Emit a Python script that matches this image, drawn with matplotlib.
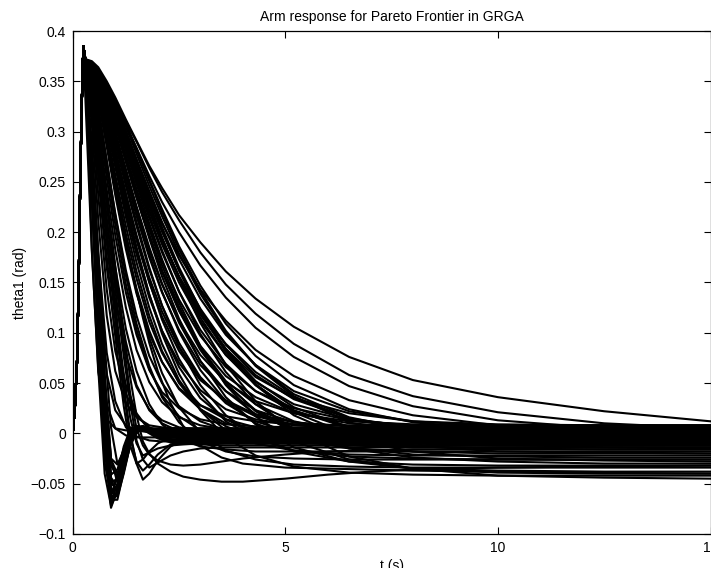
import numpy as np
import matplotlib.pyplot as plt

plt.rcParams['font.family'] = ['Liberation Sans', 'DejaVu Sans']

# common start of every response (rise to the first peak)
t_rise = [0.0, 0.05, 0.1, 0.14, 0.18, 0.22, 0.25]
y_rise = [0.0, 0.025, 0.07, 0.15, 0.26, 0.34, 0.385]

# time samples for the oscillating responses
t_fast = [0.3, 0.45, 0.6, 0.75, 0.9, 1.05, 1.2, 1.35, 1.5, 1.65, 1.8, 2.0,
          2.3, 2.6, 3.0, 3.5, 4.0, 5.0, 6.0, 7.0, 8.0, 10.0, 12.0, 15.0]

# fast ones, first minimum near t = 0.9-1.05 s
fast_curves = [
    [0.330, 0.180, 0.065, -0.040, -0.072, -0.058, -0.030, -0.006, 0.006, 0.007, 0.004, 0.001,
     -0.002, -0.003, -0.002, -0.002, -0.002, -0.002, -0.002, -0.002, -0.002, -0.002, -0.002, -0.002],
    [0.355, 0.240, 0.108, -0.010, -0.068, -0.051, -0.020, 0.001, 0.007, 0.005, 0.003, 0.000,
     0.000, 0.000, 0.000, 0.000, 0.000, 0.000, 0.000, 0.000, 0.000, 0.000, 0.000, 0.000],
    [0.356, 0.249, 0.125, 0.009, -0.060, -0.052, -0.024, 0.000, 0.007, 0.005, 0.002, -0.003,
     -0.004, -0.004, -0.004, -0.004, -0.004, -0.004, -0.004, -0.004, -0.004, -0.004, -0.004, -0.004],
    [0.357, 0.254, 0.133, 0.016, -0.066, -0.066, -0.038, -0.004, 0.006, 0.006, 0.004, 0.002,
     0.002, 0.002, 0.002, 0.002, 0.002, 0.002, 0.002, 0.002, 0.002, 0.002, 0.002, 0.002],
    [0.357, 0.259, 0.143, 0.031, -0.050, -0.055, -0.031, -0.005, 0.005, 0.006, 0.003, -0.001,
     -0.003, -0.003, -0.003, -0.003, -0.003, -0.003, -0.003, -0.003, -0.003, -0.003, -0.003, -0.003],
    [0.357, 0.262, 0.147, 0.036, -0.054, -0.063, -0.040, -0.012, 0.004, 0.006, 0.003, -0.003,
     -0.006, -0.006, -0.006, -0.006, -0.006, -0.006, -0.006, -0.006, -0.006, -0.006, -0.006, -0.006],
    [0.358, 0.266, 0.155, 0.048, -0.044, -0.053, -0.033, -0.010, 0.003, 0.007, 0.004, 0.002,
     0.001, 0.001, 0.001, 0.001, 0.001, 0.001, 0.001, 0.001, 0.001, 0.001, 0.001, 0.001],
    [0.358, 0.270, 0.164, 0.060, -0.025, -0.049, -0.035, -0.013, 0.001, 0.006, 0.004, -0.002,
     -0.006, -0.009, -0.009, -0.009, -0.009, -0.009, -0.009, -0.009, -0.009, -0.009, -0.009, -0.009],
    [0.356, 0.244, 0.115, -0.004, -0.070, -0.058, -0.025, 0.000, 0.007, 0.005, 0.001, -0.004,
     -0.008, -0.008, -0.008, -0.008, -0.008, -0.008, -0.008, -0.008, -0.008, -0.008, -0.008, -0.008],
    [0.356, 0.253, 0.131, 0.014, -0.062, -0.062, -0.035, -0.003, 0.006, 0.007, 0.005, 0.004,
     0.004, 0.004, 0.004, 0.004, 0.004, 0.004, 0.004, 0.004, 0.004, 0.004, 0.004, 0.004],
    [0.357, 0.261, 0.148, 0.040, -0.025, -0.031, -0.017, -0.001, 0.005, 0.005, 0.003, 0.001,
     0.000, 0.000, 0.000, 0.000, 0.000, 0.000, 0.000, 0.000, 0.000, 0.000, 0.000, 0.000],
    [0.358, 0.269, 0.162, 0.057, -0.026, -0.040, -0.026, -0.008, 0.003, 0.006, 0.003, -0.001,
     -0.004, -0.005, -0.005, -0.005, -0.005, -0.005, -0.005, -0.005, -0.005, -0.005, -0.005, -0.005],
    [0.357, 0.252, 0.131, 0.019, -0.041, -0.036, -0.015, 0.001, 0.007, 0.006, 0.004, 0.003,
     0.003, 0.003, 0.003, 0.003, 0.003, 0.003, 0.003, 0.003, 0.003, 0.003, 0.003, 0.003],
    [0.359, 0.279, 0.182, 0.087, 0.006, -0.030, -0.023, -0.009, 0.000, 0.005, 0.004, 0.001,
     -0.001, -0.002, -0.002, -0.002, -0.002, -0.002, -0.002, -0.002, -0.002, -0.002, -0.002, -0.002],
    [0.354, 0.233, 0.091, -0.029, -0.062, -0.042, -0.013, 0.004, 0.007, 0.005, 0.003, 0.001,
     0.001, 0.001, 0.001, 0.001, 0.001, 0.001, 0.001, 0.001, 0.001, 0.001, 0.001, 0.001],
    [0.355, 0.239, 0.105, -0.015, -0.074, -0.056, -0.022, 0.001, 0.007, 0.005, 0.003, 0.000,
     -0.002, -0.003, -0.003, -0.003, -0.003, -0.003, -0.003, -0.003, -0.003, -0.003, -0.003, -0.003],
    [0.356, 0.252, 0.129, 0.011, -0.059, -0.061, -0.032, -0.002, 0.006, 0.007, 0.005, 0.005,
     0.005, 0.005, 0.005, 0.005, 0.005, 0.005, 0.005, 0.005, 0.005, 0.005, 0.005, 0.005],
    [0.357, 0.263, 0.152, 0.044, -0.032, -0.043, -0.027, -0.006, 0.004, 0.006, 0.003, -0.002,
     -0.006, -0.007, -0.007, -0.007, -0.007, -0.007, -0.007, -0.007, -0.007, -0.007, -0.007, -0.007],
    [0.357, 0.264, 0.151, 0.042, -0.046, -0.059, -0.038, -0.012, 0.004, 0.007, 0.004, 0.001,
     0.000, 0.000, 0.000, 0.000, 0.000, 0.000, 0.000, 0.000, 0.000, 0.000, 0.000, 0.000],
    [0.356, 0.251, 0.129, 0.015, -0.049, -0.045, -0.021, 0.000, 0.006, 0.004, 0.000, -0.005,
     -0.009, -0.010, -0.010, -0.010, -0.010, -0.010, -0.010, -0.010, -0.010, -0.010, -0.010, -0.010],
]

# medium ones, minimum near t = 1.6 s
medium_curves = [
    [0.364, 0.326, 0.271, 0.214, 0.156, 0.100, 0.046, 0.001, -0.030, -0.046, -0.040, -0.027,
     -0.013, -0.007, -0.005, -0.004, -0.004, -0.004, -0.004, -0.004, -0.004, -0.004, -0.004, -0.004],
    [0.363, 0.324, 0.269, 0.210, 0.151, 0.095, 0.040, -0.003, -0.028, -0.037, -0.031, -0.021,
     -0.011, -0.008, -0.006, -0.006, -0.006, -0.006, -0.006, -0.006, -0.006, -0.006, -0.006, -0.006],
    [0.362, 0.318, 0.258, 0.196, 0.135, 0.078, 0.027, -0.012, -0.030, -0.026, -0.018, -0.010,
     -0.004, -0.002, -0.002, -0.002, -0.002, -0.002, -0.002, -0.002, -0.002, -0.002, -0.002, -0.002],
    [0.364, 0.327, 0.275, 0.219, 0.164, 0.110, 0.058, 0.016, -0.010, -0.022, -0.019, -0.015,
     -0.012, -0.011, -0.010, -0.010, -0.010, -0.010, -0.010, -0.010, -0.010, -0.010, -0.010, -0.010],
    [0.364, 0.331, 0.282, 0.231, 0.178, 0.126, 0.077, 0.031, -0.007, -0.026, -0.034, -0.029,
     -0.022, -0.018, -0.015, -0.014, -0.014, -0.014, -0.014, -0.014, -0.014, -0.014, -0.014, -0.014],
]

# slow undershoot, minimum between 2.5 and 4 s
undershoot_curves = [
    [0.365, 0.340, 0.300, 0.250, 0.200, 0.150, 0.100, 0.056, 0.018, -0.008, -0.020, -0.030,
     -0.038, -0.043, -0.046, -0.048, -0.048, -0.045, -0.041, -0.038, -0.036, -0.034, -0.033, -0.032],
    [0.366, 0.340, 0.297, 0.246, 0.192, 0.140, 0.088, 0.040, 0.005, -0.012, -0.021, -0.027,
     -0.031, -0.032, -0.031, -0.028, -0.025, -0.021, -0.018, -0.017, -0.016, -0.016, -0.016, -0.016],
    [0.368, 0.360, 0.340, 0.310, 0.275, 0.240, 0.205, 0.172, 0.142, 0.115, 0.090, 0.062,
     0.030, 0.007, -0.012, -0.024, -0.030, -0.034, -0.035, -0.036, -0.037, -0.038, -0.039, -0.040],
]

# time samples for the overdamped responses
t_slow = [0.3, 0.45, 0.6, 0.8, 1.0, 1.25, 1.5, 1.8, 2.1, 2.5, 3.0, 3.6, 4.3, 5.2, 6.5, 8.0, 10.0, 12.5, 15.0]

slow_curves = [
    [0.370, 0.183, 0.061, 0.014, 0.005, 0.003, 0.003, 0.003, 0.003, 0.003, 0.003, 0.003, 0.003, 0.003, 0.003, 0.003, 0.003, 0.003, 0.003],
    [0.370, 0.232, 0.102, 0.029, 0.005, -0.002, -0.004, -0.004, -0.004, -0.004, -0.004, -0.004, -0.004, -0.004, -0.004, -0.004, -0.004, -0.004, -0.004],
    [0.370, 0.267, 0.147, 0.059, 0.023, 0.008, 0.003, 0.001, 0.001, 0.001, 0.001, 0.001, 0.001, 0.001, 0.001, 0.001, 0.001, 0.001, 0.001],
    [0.370, 0.288, 0.178, 0.080, 0.032, 0.006, -0.003, -0.007, -0.008, -0.008, -0.008, -0.008, -0.008, -0.008, -0.008, -0.008, -0.008, -0.008, -0.008],
    [0.370, 0.307, 0.212, 0.117, 0.062, 0.030, 0.016, 0.008, 0.006, 0.005, 0.005, 0.005, 0.005, 0.005, 0.005, 0.005, 0.005, 0.005, 0.005],
    [0.370, 0.320, 0.237, 0.143, 0.082, 0.039, 0.017, 0.006, 0.001, -0.001, -0.002, -0.002, -0.002, -0.002, -0.002, -0.002, -0.002, -0.002, -0.002],
    [0.370, 0.329, 0.256, 0.165, 0.100, 0.048, 0.020, 0.003, -0.005, -0.010, -0.011, -0.012, -0.012, -0.012, -0.012, -0.012, -0.012, -0.012, -0.012],
    [0.370, 0.338, 0.277, 0.196, 0.132, 0.078, 0.046, 0.024, 0.013, 0.006, 0.003, 0.002, 0.002, 0.002, 0.002, 0.002, 0.002, 0.002, 0.002],
    [0.370, 0.343, 0.289, 0.212, 0.150, 0.091, 0.048, 0.023, 0.010, 0.002, -0.003, -0.005, -0.006, -0.006, -0.006, -0.006, -0.006, -0.006, -0.006],
    [0.370, 0.347, 0.299, 0.228, 0.165, 0.104, 0.062, 0.029, 0.009, -0.005, -0.013, -0.016, -0.018, -0.018, -0.018, -0.018, -0.018, -0.018, -0.018],
    [0.370, 0.349, 0.307, 0.242, 0.183, 0.125, 0.083, 0.051, 0.031, 0.016, 0.008, 0.004, 0.003, 0.002, 0.002, 0.002, 0.002, 0.002, 0.002],
    [0.370, 0.352, 0.314, 0.254, 0.197, 0.140, 0.098, 0.063, 0.041, 0.025, 0.014, 0.009, 0.007, 0.006, 0.006, 0.006, 0.006, 0.006, 0.006],
    [0.370, 0.354, 0.319, 0.263, 0.208, 0.148, 0.103, 0.064, 0.038, 0.017, 0.003, -0.005, -0.008, -0.010, -0.010, -0.010, -0.010, -0.010, -0.010],
    [0.370, 0.356, 0.324, 0.271, 0.219, 0.162, 0.117, 0.077, 0.050, 0.027, 0.012, 0.003, -0.001, -0.003, -0.003, -0.003, -0.003, -0.003, -0.003],
    [0.370, 0.356, 0.324, 0.271, 0.217, 0.157, 0.109, 0.067, 0.036, 0.011, -0.008, -0.018, -0.023, -0.025, -0.026, -0.026, -0.026, -0.026, -0.026],
    [0.370, 0.358, 0.331, 0.285, 0.237, 0.183, 0.139, 0.099, 0.071, 0.045, 0.028, 0.017, 0.012, 0.009, 0.008, 0.008, 0.008, 0.008, 0.008],
    [0.370, 0.359, 0.333, 0.288, 0.242, 0.188, 0.144, 0.102, 0.071, 0.044, 0.024, 0.010, 0.004, 0.001, 0.000, -0.001, -0.001, -0.001, -0.001],
    [0.370, 0.360, 0.336, 0.294, 0.250, 0.198, 0.154, 0.111, 0.080, 0.051, 0.028, 0.014, 0.006, 0.002, 0.000, 0.000, 0.000, 0.000, 0.000],
    [0.370, 0.359, 0.335, 0.292, 0.245, 0.189, 0.141, 0.095, 0.060, 0.026, 0.001, -0.017, -0.026, -0.031, -0.033, -0.034, -0.034, -0.034, -0.034],
    [0.370, 0.361, 0.339, 0.299, 0.257, 0.206, 0.161, 0.117, 0.082, 0.050, 0.024, 0.007, -0.004, -0.009, -0.011, -0.012, -0.012, -0.012, -0.012],
    [0.370, 0.362, 0.342, 0.307, 0.268, 0.220, 0.178, 0.135, 0.102, 0.070, 0.043, 0.024, 0.014, 0.008, 0.005, 0.004, 0.004, 0.004, 0.004],
    [0.370, 0.362, 0.342, 0.305, 0.265, 0.215, 0.170, 0.125, 0.089, 0.053, 0.024, 0.003, -0.010, -0.017, -0.021, -0.022, -0.022, -0.022, -0.022],
    [0.370, 0.363, 0.344, 0.311, 0.273, 0.225, 0.183, 0.138, 0.102, 0.066, 0.035, 0.014, 0.000, -0.008, -0.012, -0.014, -0.014, -0.014, -0.014],
    [0.370, 0.363, 0.346, 0.314, 0.278, 0.233, 0.192, 0.150, 0.116, 0.082, 0.053, 0.033, 0.019, 0.011, 0.007, 0.006, 0.006, 0.006, 0.006],
    [0.370, 0.363, 0.347, 0.316, 0.282, 0.238, 0.197, 0.155, 0.121, 0.086, 0.055, 0.032, 0.017, 0.009, 0.004, 0.002, 0.002, 0.002, 0.002],
    [0.370, 0.363, 0.346, 0.313, 0.276, 0.229, 0.185, 0.138, 0.099, 0.059, 0.023, -0.004, -0.022, -0.033, -0.039, -0.041, -0.042, -0.042, -0.042],
    [0.370, 0.364, 0.347, 0.317, 0.282, 0.238, 0.195, 0.151, 0.113, 0.074, 0.040, 0.012, -0.005, -0.017, -0.023, -0.025, -0.026, -0.026, -0.026],
    [0.370, 0.364, 0.349, 0.321, 0.288, 0.246, 0.206, 0.163, 0.127, 0.090, 0.056, 0.030, 0.012, 0.000, -0.006, -0.008, -0.009, -0.009, -0.009],
    [0.370, 0.364, 0.351, 0.324, 0.294, 0.255, 0.216, 0.175, 0.140, 0.103, 0.068, 0.042, 0.023, 0.011, 0.004, 0.001, 0.000, 0.000, 0.000],
    [0.370, 0.365, 0.352, 0.327, 0.298, 0.260, 0.223, 0.182, 0.148, 0.112, 0.078, 0.051, 0.032, 0.020, 0.012, 0.009, 0.008, 0.008, 0.008],
    [0.370, 0.364, 0.350, 0.323, 0.291, 0.250, 0.210, 0.165, 0.127, 0.086, 0.048, 0.018, -0.003, -0.018, -0.028, -0.031, -0.032, -0.032, -0.032],
    [0.370, 0.365, 0.352, 0.327, 0.297, 0.258, 0.220, 0.178, 0.141, 0.101, 0.063, 0.032, 0.010, -0.005, -0.015, -0.018, -0.020, -0.020, -0.020],
    [0.370, 0.365, 0.353, 0.329, 0.300, 0.263, 0.226, 0.185, 0.149, 0.110, 0.072, 0.042, 0.019, 0.004, -0.006, -0.010, -0.012, -0.012, -0.012],
    [0.370, 0.366, 0.354, 0.332, 0.305, 0.270, 0.235, 0.196, 0.161, 0.124, 0.087, 0.057, 0.036, 0.020, 0.010, 0.006, 0.004, 0.004, 0.004],
    [0.370, 0.366, 0.355, 0.332, 0.306, 0.271, 0.235, 0.196, 0.161, 0.122, 0.085, 0.052, 0.029, 0.012, 0.000, -0.005, -0.007, -0.007, -0.007],
    [0.370, 0.366, 0.355, 0.335, 0.310, 0.276, 0.243, 0.205, 0.171, 0.133, 0.097, 0.066, 0.042, 0.025, 0.013, 0.008, 0.007, 0.006, 0.006],
    [0.370, 0.366, 0.355, 0.334, 0.307, 0.273, 0.238, 0.198, 0.162, 0.122, 0.083, 0.049, 0.023, 0.005, -0.008, -0.013, -0.015, -0.016, -0.016],
    [0.370, 0.366, 0.356, 0.335, 0.310, 0.276, 0.242, 0.203, 0.167, 0.126, 0.085, 0.050, 0.022, 0.001, -0.014, -0.021, -0.023, -0.024, -0.024],
    [0.370, 0.366, 0.354, 0.333, 0.307, 0.271, 0.235, 0.194, 0.156, 0.114, 0.072, 0.036, 0.009, -0.014, -0.028, -0.035, -0.037, -0.038, -0.038],
    [0.370, 0.366, 0.357, 0.338, 0.315, 0.283, 0.251, 0.214, 0.180, 0.141, 0.103, 0.069, 0.042, 0.022, 0.007, 0.001, -0.002, -0.003, -0.003],
    [0.370, 0.367, 0.358, 0.340, 0.318, 0.288, 0.257, 0.221, 0.188, 0.150, 0.112, 0.078, 0.051, 0.029, 0.014, 0.007, 0.004, 0.003, 0.003],
    [0.370, 0.367, 0.358, 0.341, 0.320, 0.290, 0.260, 0.226, 0.193, 0.156, 0.118, 0.084, 0.056, 0.035, 0.020, 0.012, 0.009, 0.008, 0.008],
    [0.370, 0.366, 0.357, 0.338, 0.314, 0.281, 0.248, 0.209, 0.173, 0.130, 0.087, 0.048, 0.017, -0.008, -0.026, -0.035, -0.039, -0.040, -0.040],
    [0.370, 0.367, 0.358, 0.340, 0.318, 0.287, 0.255, 0.217, 0.182, 0.141, 0.099, 0.061, 0.029, 0.004, -0.015, -0.024, -0.028, -0.030, -0.030],
    [0.370, 0.367, 0.359, 0.342, 0.321, 0.292, 0.262, 0.228, 0.194, 0.155, 0.115, 0.078, 0.048, 0.023, 0.005, -0.004, -0.008, -0.010, -0.010],
    [0.370, 0.367, 0.359, 0.343, 0.323, 0.296, 0.267, 0.233, 0.201, 0.163, 0.124, 0.088, 0.058, 0.034, 0.015, 0.006, 0.002, 0.000, 0.000],
    [0.370, 0.367, 0.360, 0.345, 0.327, 0.301, 0.273, 0.241, 0.210, 0.173, 0.134, 0.098, 0.068, 0.042, 0.022, 0.012, 0.007, 0.005, 0.005],
    [0.370, 0.367, 0.359, 0.344, 0.324, 0.296, 0.268, 0.233, 0.201, 0.162, 0.121, 0.084, 0.052, 0.026, 0.006, -0.004, -0.009, -0.011, -0.011],
    [0.370, 0.367, 0.360, 0.344, 0.325, 0.297, 0.269, 0.234, 0.202, 0.162, 0.120, 0.081, 0.049, 0.021, -0.001, -0.012, -0.018, -0.019, -0.020],
    [0.370, 0.367, 0.359, 0.343, 0.324, 0.295, 0.265, 0.229, 0.195, 0.154, 0.110, 0.068, 0.032, 0.002, -0.023, -0.035, -0.042, -0.044, -0.045],
    [0.370, 0.367, 0.360, 0.345, 0.326, 0.300, 0.271, 0.237, 0.205, 0.165, 0.123, 0.083, 0.048, 0.018, -0.006, -0.018, -0.025, -0.027, -0.028],
    [0.370, 0.367, 0.361, 0.347, 0.329, 0.305, 0.278, 0.246, 0.216, 0.179, 0.139, 0.100, 0.068, 0.039, 0.016, 0.003, -0.003, -0.005, -0.006],
    [0.370, 0.368, 0.361, 0.348, 0.332, 0.308, 0.283, 0.252, 0.223, 0.186, 0.147, 0.109, 0.077, 0.048, 0.024, 0.011, 0.004, 0.002, 0.001],
    [0.370, 0.368, 0.362, 0.348, 0.332, 0.307, 0.282, 0.251, 0.220, 0.183, 0.142, 0.102, 0.067, 0.037, 0.011, -0.003, -0.011, -0.014, -0.015],
]

# the slowest responses on the outside of the bundle
outer_curves = [
    [0.372, 0.370, 0.364, 0.350, 0.334, 0.312, 0.291, 0.266, 0.244, 0.217, 0.190, 0.161, 0.134, 0.106, 0.076, 0.053, 0.036, 0.022, 0.012],
    [0.372, 0.369, 0.361, 0.346, 0.330, 0.310, 0.290, 0.264, 0.240, 0.212, 0.180, 0.148, 0.119, 0.089, 0.058, 0.037, 0.021, 0.010, 0.005],
    [0.372, 0.368, 0.360, 0.345, 0.328, 0.306, 0.284, 0.256, 0.230, 0.200, 0.167, 0.135, 0.105, 0.076, 0.047, 0.027, 0.013, 0.005, 0.002],
    [0.372, 0.367, 0.358, 0.343, 0.326, 0.297, 0.268, 0.237, 0.209, 0.177, 0.143, 0.112, 0.083, 0.057, 0.033, 0.018, 0.008, 0.003, 0.001],
    [0.372, 0.366, 0.355, 0.340, 0.322, 0.292, 0.258, 0.222, 0.191, 0.156, 0.121, 0.089, 0.061, 0.036, 0.015, 0.002, -0.005, -0.009, -0.010],
]

x_ticks = [0, 5, 10, 15]
y_ticks = [-0.1, -0.05, 0, 0.05, 0.1, 0.15, 0.2, 0.25, 0.3, 0.35, 0.4]
y_tick_labels = ['\u22120.1', '\u22120.05', '0', '0.05', '0.1', '0.15', '0.2', '0.25', '0.3', '0.35', '0.4']

fig = plt.figure(figsize=(7.11, 5.68), dpi=100)
ax = fig.add_axes([0.1023, 0.0599, 0.897, 0.8855])

lw = 1.5
for c in fast_curves + medium_curves + undershoot_curves:
    ax.plot(t_rise + t_fast, y_rise + c, color='k', lw=lw)
for c in slow_curves + outer_curves:
    ax.plot(t_rise + t_slow, y_rise + c, color='k', lw=lw)

ax.set_xlim(0, 15)
ax.set_ylim(-0.1, 0.4)
ax.set_xticks(x_ticks)
ax.set_xticklabels([str(v) for v in x_ticks])
ax.set_yticks(y_ticks)
ax.set_yticklabels(y_tick_labels)
ax.tick_params(direction='in', top=True, right=True, length=5, width=0.8, labelsize=10, pad=5)
for s in ax.spines.values():
    s.set_linewidth(0.9)

ax.set_title("Arm response for Pareto Frontier in GRGA", fontsize=10, pad=7)
ax.set_xlabel("t (s)", fontsize=10, labelpad=3)
ax.set_ylabel("theta1 (rad)", fontsize=10, labelpad=2.5)

fig.savefig("out.png", dpi=100)
